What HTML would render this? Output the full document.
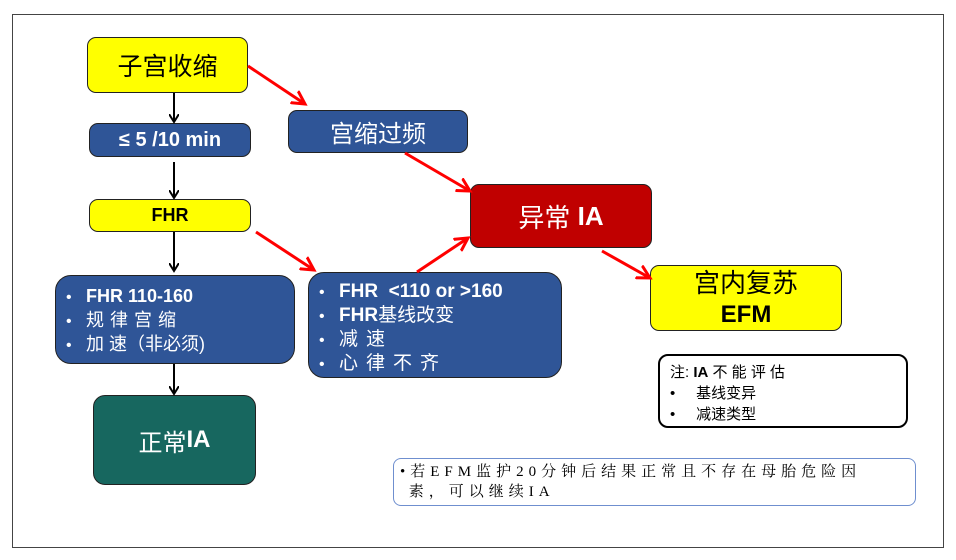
<!DOCTYPE html>
<html><head><meta charset="utf-8"><style>
body{margin:0;width:956px;height:560px;background:#fff;position:relative;overflow:hidden;font-family:"Liberation Sans","Noto Sans CJK SC",sans-serif}
.b{position:absolute;box-sizing:border-box;border:1.5px solid #222;border-radius:9px}
.y{background:#ffff00;color:#000}
.bl{background:#2f5597;color:#fff}
.c{display:flex;align-items:center;justify-content:center}
ul{margin:0;padding:0;list-style:none}
li:before{content:"•";display:inline-block;width:20px;font-size:16px}
</style></head><body>
<div style="position:absolute;left:12px;top:14px;width:932px;height:534px;border:1px solid #444;box-sizing:border-box"></div>
<div class="b y c" style="left:87px;top:37px;width:161px;height:56px;font-size:25px">子宫收缩</div>
<div class="b bl c" style="left:89px;top:123px;width:162px;height:34px;font-size:20px;font-weight:bold">≤ 5 /10 min</div>
<div class="b y c" style="left:89px;top:199px;width:162px;height:33px;font-size:18px;font-weight:bold">FHR</div>
<div class="b bl" style="left:55px;top:275px;width:240px;height:89px;border-radius:16px;padding:9px 0 0 10px;font-size:18px;line-height:22px">
<ul><li><b>FHR 110-160</b></li><li style="letter-spacing:6px">规律宫缩</li><li>加 速（非必须)</li></ul></div>
<div class="b c" style="left:93px;top:395px;width:163px;height:90px;background:#17675f;color:#fff;font-size:24px;border-radius:12px">正常<b>IA</b></div>
<div class="b bl c" style="left:288px;top:110px;width:180px;height:43px;font-size:24px">宫缩过频</div>
<div class="b c" style="left:470px;top:184px;width:182px;height:64px;background:#c00000;color:#fff;font-size:26px">异常 <b>&nbsp;IA</b></div>
<div class="b bl" style="left:308px;top:272px;width:254px;height:106px;border-radius:16px;padding:7px 0 0 10px;font-size:19px;line-height:23px">
<ul><li><b>FHR &nbsp;&lt;110 or &gt;160</b></li><li><b>FHR</b>基线改变</li><li style="letter-spacing:8px">减速</li><li style="letter-spacing:8px">心律不齐</li></ul></div>
<div class="b y" style="left:650px;top:265px;width:192px;height:66px;text-align:center;font-size:26px;line-height:30px;padding-top:2px">宫内复苏<br><b style="font-size:24px">EFM</b></div>
<div class="b" style="left:658px;top:354px;width:250px;height:74px;border:2px solid #000;border-radius:10px;padding:6px 0 0 10px;font-size:15px;line-height:21px">注: <b>IA</b> 不 能 评 估<br>•&nbsp;&nbsp;&nbsp;&nbsp;&nbsp;基线变异<br>•&nbsp;&nbsp;&nbsp;&nbsp;&nbsp;减速类型</div>
<div class="b" style="left:393px;top:458px;width:523px;height:48px;border:1.5px solid #6f8fcf;border-radius:8px;padding:3px 0 0 6px;font-size:15px;line-height:20px;letter-spacing:5px;font-family:'Liberation Serif','Noto Serif CJK SC',serif">•若EFM监护20分钟后结果正常且不存在母胎危险因<br>&nbsp;素，可以继续IA</div>
<svg width="956" height="560" style="position:absolute;left:0;top:0">
<defs>
<marker id="k" markerWidth="10" markerHeight="10" refX="8" refY="5" orient="auto" markerUnits="userSpaceOnUse"><path d="M0,0 L8,5 L0,10" fill="none" stroke="#000" stroke-width="2"/></marker>
<marker id="r" markerWidth="16" markerHeight="16" refX="13" refY="8" orient="auto" markerUnits="userSpaceOnUse"><path d="M0,1 L13,8 L0,15" fill="none" stroke="#f00" stroke-width="3"/></marker>
</defs>
<g stroke="#000" stroke-width="2" marker-end="url(#k)">
<line x1="174" y1="93" x2="174" y2="122"/><line x1="174" y1="162" x2="174" y2="198"/><line x1="174" y1="232" x2="174" y2="271"/><line x1="174" y1="364" x2="174" y2="394"/></g>
<g stroke="#f00" stroke-width="3" marker-end="url(#r)">
<line x1="248" y1="66" x2="305" y2="104"/><line x1="405" y1="153" x2="470" y2="191"/><line x1="256" y1="232" x2="314" y2="270"/><line x1="417" y1="272" x2="468" y2="238"/><line x1="602" y1="251" x2="650" y2="278"/></g>
</svg>
</body></html>
